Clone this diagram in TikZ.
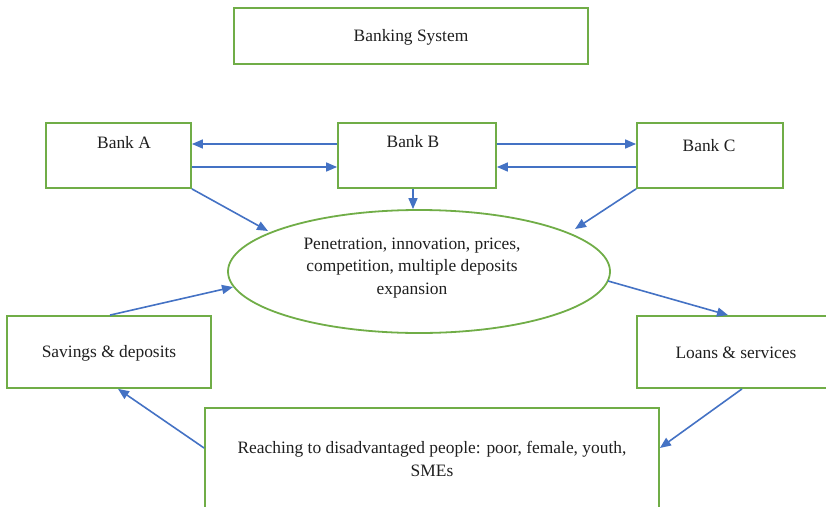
\documentclass[tikz,border=0pt]{standalone}
\usepackage{fontspec}
\setmainfont{Liberation Serif}
\usetikzlibrary{arrows.meta,shapes.geometric}
\definecolor{boxgreen}{RGB}{112,173,71}
\definecolor{arrowblue}{RGB}{68,114,196}
\begin{document}
\begin{tikzpicture}[x=1pt,y=-1pt,
  box/.style={draw=boxgreen,line width=1.8pt,rectangle,inner sep=0pt},
  oval/.style={draw=boxgreen,line width=1.8pt,ellipse,inner sep=0pt},
  txt/.style={inner sep=0pt,font=\fontsize{17.4}{22.5}\selectfont,text=black!88,align=center},
  link/.style={draw=arrowblue,line width=1.6pt,-{Triangle[length=11pt,width=9pt]}}]
\useasboundingbox (0,0) rectangle (826,506);
\clip (0,0) rectangle (826,506);
% boxes
\node[box,minimum width=354pt,minimum height=56pt] (sys) at (411,36) {};
\node[box,minimum width=145pt,minimum height=65pt] (bankA) at (118.5,155.5) {};
\node[box,minimum width=158pt,minimum height=65pt] (bankB) at (417,155.5) {};
\node[box,minimum width=146pt,minimum height=65pt] (bankC) at (710,155.5) {};
\node[oval,minimum width=382pt,minimum height=123pt] (ell) at (419,271.5) {};
\node[box,minimum width=204pt,minimum height=72pt] (save) at (109,352) {};
\node[box,minimum width=192pt,minimum height=72pt] (loan) at (733,352) {};
\node[box,minimum width=454pt,minimum height=110pt] (reach) at (432,463) {};
% texts
\node[txt] (tsys) at (411,37) {Banking System};
\node[txt] (tA) at (124,143) {Bank A};
\node[txt] (tB) at (413,142) {Bank B};
\node[txt] (tC) at (709,146) {Bank C};
\node[txt] (tell) at (412,268) {Penetration, innovation, prices,\\competition, multiple deposits\\expansion};
\node[txt] (tsave) at (109,353) {Savings \& deposits};
\node[txt] (tloan) at (736,353) {Loans \& services};
\node[txt] (treach) at (432,459) {Reaching to disadvantaged people: poor, female, youth,\\SMEs};
% ends of arrows near the oval
\coordinate (eA) at (268,231);
\coordinate (eC) at (575,229);
\coordinate (eS) at (233,287);
\coordinate (eL) at (608,281);
% arrows between banks (yshift is upward)
\draw[link] ([yshift=11.5pt]bankB.west) -- ([yshift=11.5pt]bankA.east);
\draw[link] ([yshift=-11.5pt]bankA.east) -- ([yshift=-11.5pt]bankB.west);
\draw[link] ([yshift=11.5pt]bankB.east) -- ([yshift=11.5pt]bankC.west);
\draw[link] ([yshift=-11.5pt]bankC.west) -- ([yshift=-11.5pt]bankB.east);
% banks into the oval
\draw[link] (bankA.south east) -- (eA);
\draw[link] ([xshift=-4pt]bankB.south) -- ([xshift=-4pt]bankB.south |- ell.north);
\draw[link] (bankC.south west) -- (eC);
% the cycle
\draw[link] (eL) -- ([xshift=-5pt]loan.north);
\draw[link] ([xshift=9pt]loan.south) -- ([yshift=15pt]reach.east);
\draw[link] ([yshift=15pt]reach.west) -- ([xshift=9pt]save.south);
\draw[link] ([xshift=1pt]save.north) -- (eS);
\end{tikzpicture}
\end{document}
